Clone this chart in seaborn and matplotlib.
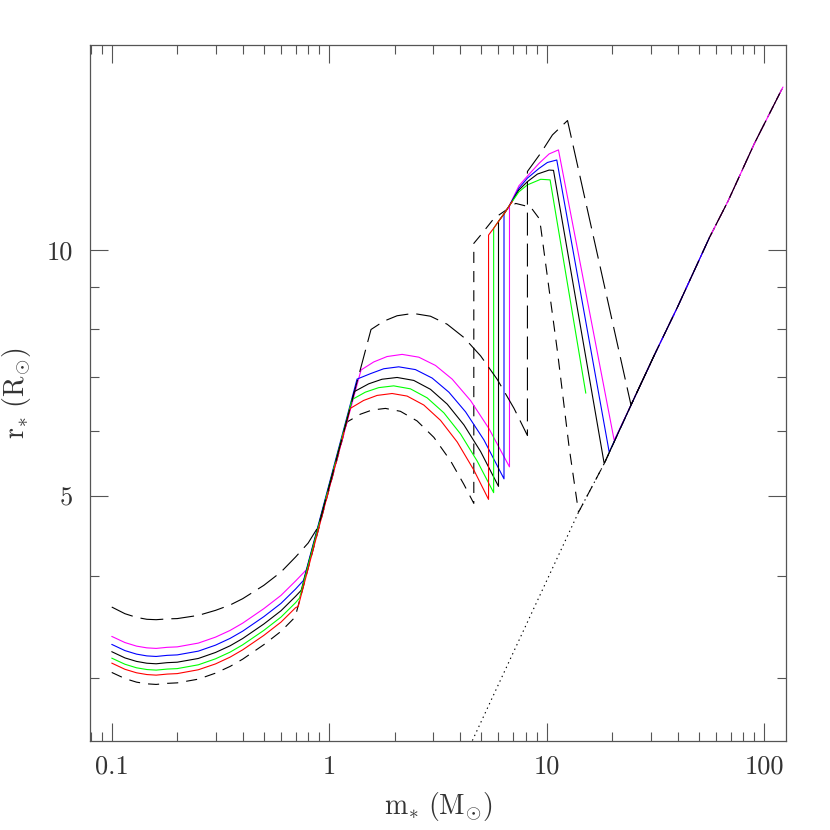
"""
Protostellar radius versus mass for several accretion histories.
"""
import matplotlib
matplotlib.use("Agg")
import matplotlib.pyplot as plt
from matplotlib.ticker import FixedLocator, FuncFormatter, LogLocator, NullFormatter
import seaborn as sns

# ── Data (mass in Msun, radius in Rsun) ───────────────────────────────
ZAMS_M = [4.55, 14.0, 18.37, 24.4, 31.2, 40.0, 56.0, 68.0, 90.2, 121.9]
ZAMS_R = [2.515, 4.78, 5.48, 6.46, 7.43, 8.52, 10.35, 11.45, 13.49, 15.8]

LOW_M = [0.1, 0.115, 0.13, 0.145, 0.16, 0.18, 0.2, 0.25, 0.3, 0.35, 0.4, 0.5, 0.6, 0.7]

MAGENTA_M = LOW_M + [0.794, 1.40, 1.601, 1.844, 2.163, 2.580, 3.079, 3.675,
                     4.465, 5.423, 6.74, 6.74,
                     7.45, 8.15, 9.22, 10.25, 11.32, 20.42] + ZAMS_M[3:]
MAGENTA_R = [3.371, 3.313, 3.280, 3.264, 3.259, 3.269, 3.273, 3.308, 3.364, 3.428,
             3.499, 3.644, 3.783, 3.939,
             4.078, 7.13, 7.293, 7.405, 7.450, 7.392, 7.222, 6.949,
             6.542, 6.047, 5.43, 11.33,
             11.97, 12.30, 12.75, 13.09, 13.24, 5.85] + ZAMS_R[3:]

BLUE_M = LOW_M + [0.762, 1.342, 1.545, 1.780, 2.086, 2.491, 2.973, 3.548,
                  4.233, 5.143, 6.36, 6.36, 6.75,
                  7.45, 8.15, 9.22, 10.07, 11.12, 19.37] + ZAMS_M[3:7]
BLUE_R = [3.296, 3.239, 3.207, 3.191, 3.186, 3.196, 3.200, 3.234, 3.289, 3.352,
          3.421, 3.563, 3.699, 3.851,
          3.947, 6.95, 7.056, 7.155, 7.194, 7.138, 6.970, 6.699,
          6.339, 5.857, 5.25, 11.06, 11.33,
          11.89, 12.23, 12.57, 12.78, 12.87, 5.66] + ZAMS_R[3:7]

BLACK_M = LOW_M + [0.743, 1.304, 1.518, 1.748, 2.051, 2.447, 2.92, 3.485,
                   4.159, 4.965, 6.0, 6.0, 6.36, 6.75,
                   7.45, 8.15, 9.06, 10.25, 10.74] + ZAMS_M[2:5]
BLACK_R = [3.229, 3.173, 3.142, 3.126, 3.121, 3.131, 3.135, 3.168, 3.222, 3.283,
           3.351, 3.490, 3.623, 3.773,
           3.837, 6.71, 6.858, 6.947, 6.982, 6.924, 6.753, 6.478,
           6.111, 5.669, 5.14, 10.83, 11.06, 11.33,
           11.83, 12.11, 12.37, 12.51, 12.50] + ZAMS_R[2:5]

GREEN_M = LOW_M + [0.730, 1.272, 1.465, 1.688, 1.978, 2.362, 2.819, 3.365,
                   4.015, 4.792, 5.70, 5.70, 6.0, 6.36, 6.75,
                   7.45, 8.15, 9.38, 10.36, 15.12]
GREEN_R = [3.171, 3.117, 3.086, 3.071, 3.066, 3.075, 3.079, 3.112, 3.165, 3.225,
           3.292, 3.428, 3.559, 3.706,
           3.755, 6.56, 6.699, 6.785, 6.819, 6.762, 6.593, 6.321,
           5.956, 5.517, 5.05, 10.62, 10.83, 11.06, 11.33,
           11.77, 12.0, 12.19, 12.17, 6.68]

RED_M = LOW_M + [0.72, 1.249, 1.439, 1.659, 1.945, 2.280, 2.721, 3.247,
                 3.876, 4.626, 5.40, 5.40, 5.70, 6.0, 6.36, 6.75, 6.95]
RED_R = [3.127, 3.073, 3.043, 3.028, 3.023, 3.032, 3.036, 3.069, 3.120, 3.180,
         3.246, 3.380, 3.509, 3.654,
         3.668, 6.40, 6.545, 6.638, 6.674, 6.626, 6.461, 6.189,
         5.823, 5.379, 4.955, 10.42, 10.62, 10.83, 11.06, 11.33, 11.45]

SHORT_M = LOW_M[:-1] + [0.697, 0.717, 1.207, 1.389, 1.573, 1.812, 2.124, 2.535,
                        3.026, 3.61, 4.159, 4.62, 4.62, 4.97, 5.72, 7.2, 8.44,
                        9.22, 9.38, 11.2, 12.67] + ZAMS_M[1:]
SHORT_R = [3.046, 2.994, 2.964, 2.950, 2.945, 2.954, 2.958, 2.989, 3.040, 3.098,
           3.162, 3.293, 3.419,
           3.559, 3.661, 6.16, 6.296, 6.371, 6.40, 6.348, 6.178,
           5.900, 5.524, 5.169, 4.90, 10.18, 10.42, 10.92, 11.39, 11.27,
           10.92, 10.66, 7.51, 5.74] + ZAMS_R[1:]

LONG_M = LOW_M + [0.8, 0.893, 1.556, 1.780, 2.051, 2.43, 2.92, 3.485, 4.159,
                  4.965, 5.925, 7.07, 8.15, 8.15,
                  9.38, 10.62, 12.46] + ZAMS_M[3:]
LONG_R = [3.661, 3.593, 3.556, 3.537, 3.533, 3.541, 3.544, 3.576, 3.627, 3.682,
          3.748, 3.891, 4.04, 4.214,
          4.383, 4.595, 7.99, 8.178, 8.305, 8.36, 8.294, 8.109, 7.813,
          7.419, 6.942, 6.401, 5.93, 12.46,
          13.12, 13.81, 14.38] + ZAMS_R[3:]

X_LIM = (10 ** -1.1, 10 ** 2.1)
Y_LIM = (10 ** 0.4, 10 ** 1.25)
Y_MAJOR = [5, 10]
Y_MINOR = [3, 4, 6, 7, 8, 9]

# ── Styling ───────────────────────────────────────────────────
INK = "#555555"
TEXT = "#333333"
LONG_DASH = (0, (16.5, 5.8))
SHORT_DASH = (0, (8.0, 5.8))
DOTTED = (0, (1.0, 2.6))

# (x, y, colour, linestyle) in drawing order
TRACKS = [
    (ZAMS_M, ZAMS_R, "black", DOTTED),
    (SHORT_M, SHORT_R, "black", SHORT_DASH),
    (MAGENTA_M, MAGENTA_R, "#ff00ff", "-"),
    (BLUE_M, BLUE_R, "#0000ff", "-"),
    (BLACK_M, BLACK_R, "black", "-"),
    (GREEN_M, GREEN_R, "#00ff00", "-"),
    (RED_M, RED_R, "#ff0000", "-"),
    (LONG_M, LONG_R, "black", LONG_DASH),
]

sns.set_theme(style="ticks")
plt.rcParams.update({
    "font.family": "serif",
    "font.serif": ["cmr10", "DejaVu Serif"],
    "mathtext.fontset": "cm",
    "lines.scale_dashes": False,
    "axes.edgecolor": INK,
    "axes.linewidth": 0.9,
    "xtick.color": INK,
    "ytick.color": INK,
    "xtick.labelcolor": TEXT,
    "ytick.labelcolor": TEXT,
    "axes.labelcolor": TEXT,
})

fig = plt.figure(figsize=(8.3, 8.3), dpi=100)
fig.patch.set_facecolor("white")
ax = fig.add_axes([90 / 830, 1 - 741 / 830, 696 / 830, 696 / 830])
ax.set_facecolor("white")
ax.set_xscale("log")
ax.set_yscale("log")

for xs, ys, color, ls in TRACKS:
    sns.lineplot(x=xs, y=ys, ax=ax, sort=False, estimator=None, color=color,
                 linestyle=ls, lw=0.8, legend=False)

ax.set_xlim(*X_LIM)
ax.set_ylim(*Y_LIM)

ax.xaxis.set_major_locator(LogLocator(base=10))
ax.xaxis.set_minor_locator(LogLocator(base=10, subs=range(2, 10)))
ax.xaxis.set_major_formatter(FuncFormatter(lambda v, _: f"{v:g}"))
ax.xaxis.set_minor_formatter(NullFormatter())
ax.yaxis.set_major_locator(FixedLocator(Y_MAJOR))
ax.yaxis.set_minor_locator(FixedLocator(Y_MINOR))
ax.yaxis.set_major_formatter(FuncFormatter(lambda v, _: f"{v:g}"))
ax.yaxis.set_minor_formatter(NullFormatter())

ax.tick_params(which="both", direction="in", top=True, right=True, width=0.8)
ax.tick_params(which="major", length=13, labelsize=19)
ax.tick_params(axis="x", which="major", pad=10)
ax.tick_params(axis="y", which="major", pad=12)
ax.tick_params(which="minor", length=6.5)

ax.set_xlabel(r"$\mathrm{m}_{*}\ (\mathrm{M}_{\odot})$", fontsize=20, labelpad=8)
ax.set_ylabel(r"$\mathrm{r}_{*}\ (\mathrm{R}_{\odot})$", fontsize=20, labelpad=10)

plt.savefig("out.png", dpi=100, facecolor="white")
plt.close()
